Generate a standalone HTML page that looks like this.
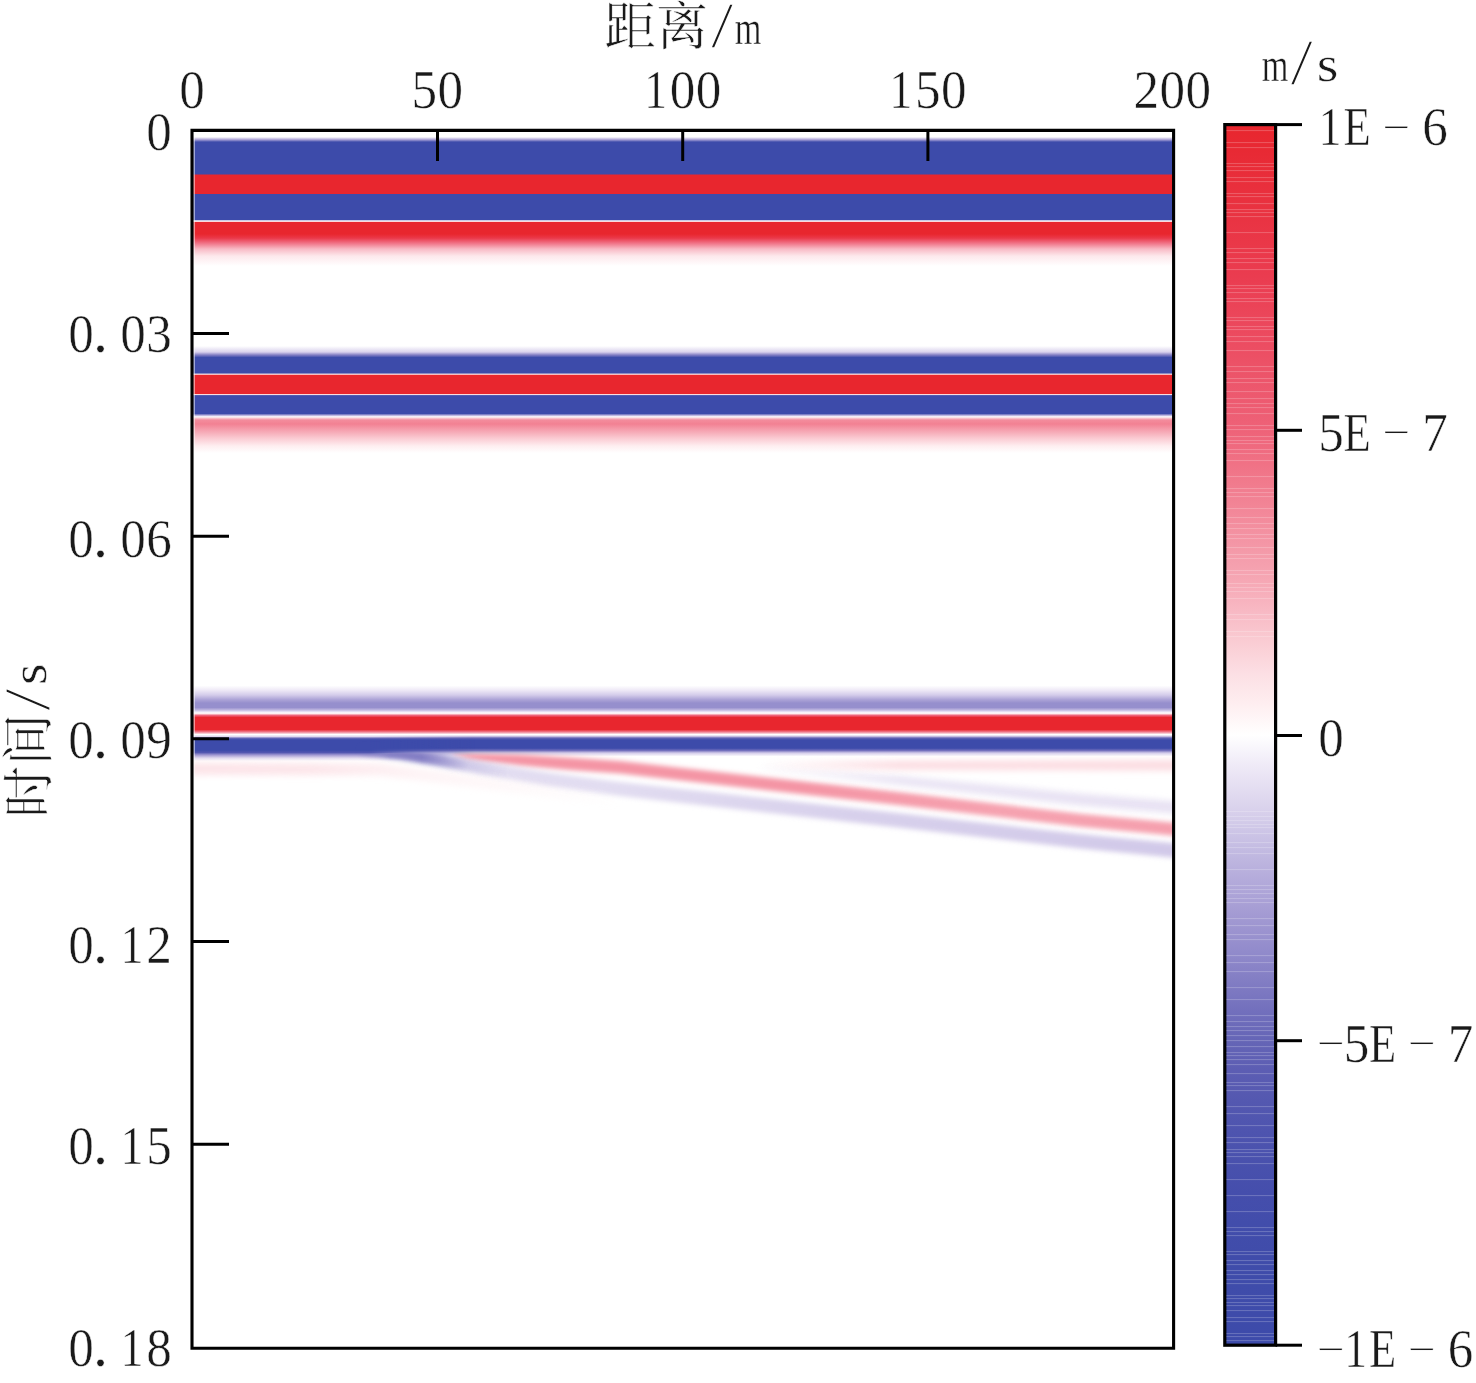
<!DOCTYPE html><html lang="zh"><head><meta charset="utf-8"><title>地震记录</title>
<style>html,body{margin:0;padding:0;background:#fff}svg{display:block}text{fill:#1a1a1a}</style></head><body>
<svg width="1476" height="1383" viewBox="0 0 1476 1383">
<defs>
<linearGradient id="gp" gradientUnits="userSpaceOnUse" x1="0" y1="130.4" x2="0" y2="1348.2"><stop offset="0.00049" stop-color="#ffffff"/><stop offset="0.00542" stop-color="#ffffff"/><stop offset="0.00747" stop-color="#b0a7d9"/><stop offset="0.00953" stop-color="#3d4baa"/><stop offset="0.03597" stop-color="#3d4baa"/><stop offset="0.03646" stop-color="#e8262e"/><stop offset="0.05198" stop-color="#e8262e"/><stop offset="0.05247" stop-color="#3d4baa"/><stop offset="0.07358" stop-color="#3d4baa"/><stop offset="0.07415" stop-color="#ffffff"/><stop offset="0.07472" stop-color="#ffffff"/><stop offset="0.07522" stop-color="#e8262e"/><stop offset="0.08507" stop-color="#e8262e"/><stop offset="0.08836" stop-color="#ea3849"/><stop offset="0.09246" stop-color="#f07084"/><stop offset="0.09739" stop-color="#f8bac5"/><stop offset="0.10314" stop-color="#fde8ec"/><stop offset="0.11135" stop-color="#ffffff"/><stop offset="0.17704" stop-color="#ffffff"/><stop offset="0.18197" stop-color="#dad2ed"/><stop offset="0.18443" stop-color="#837ec4"/><stop offset="0.18648" stop-color="#3d4baa"/><stop offset="0.19921" stop-color="#3d4baa"/><stop offset="0.20020" stop-color="#feeef0"/><stop offset="0.20118" stop-color="#e8262e"/><stop offset="0.21605" stop-color="#e8262e"/><stop offset="0.21695" stop-color="#feeef0"/><stop offset="0.21777" stop-color="#3d4baa"/><stop offset="0.23247" stop-color="#3d4baa"/><stop offset="0.23411" stop-color="#bfb7e0"/><stop offset="0.23518" stop-color="#ffffff"/><stop offset="0.23616" stop-color="#facdd4"/><stop offset="0.23781" stop-color="#f38c9d"/><stop offset="0.24109" stop-color="#f28193"/><stop offset="0.24602" stop-color="#f5a0ae"/><stop offset="0.25259" stop-color="#fac9d1"/><stop offset="0.25916" stop-color="#feeef0"/><stop offset="0.26490" stop-color="#ffffff"/><stop offset="0.45582" stop-color="#ffffff"/><stop offset="0.45952" stop-color="#efeaf7"/><stop offset="0.46362" stop-color="#d4ccea"/><stop offset="0.46732" stop-color="#ada4d7"/><stop offset="0.47019" stop-color="#968fcd"/><stop offset="0.47389" stop-color="#968fcd"/><stop offset="0.47594" stop-color="#bfb7e0"/><stop offset="0.47783" stop-color="#f6f3fa"/><stop offset="0.47881" stop-color="#feeef0"/><stop offset="0.48046" stop-color="#ee6278"/><stop offset="0.48210" stop-color="#e8262e"/><stop offset="0.49195" stop-color="#e8262e"/><stop offset="0.49401" stop-color="#f17e90"/><stop offset="0.49606" stop-color="#ffffff"/><stop offset="0.49729" stop-color="#e0d9ef"/><stop offset="0.49893" stop-color="#6565b6"/><stop offset="0.50057" stop-color="#3d4baa"/><stop offset="0.50731" stop-color="#3d4baa"/><stop offset="0.50920" stop-color="#7370bd"/><stop offset="0.51125" stop-color="#d4ccea"/><stop offset="0.51412" stop-color="#ffffff"/><stop offset="0.99984" stop-color="#ffffff"/></linearGradient>
<linearGradient id="gc" x1="0" y1="0" x2="0" y2="1"><stop offset="0.0000" stop-color="#e8262e"/><stop offset="0.0250" stop-color="#e82a35"/><stop offset="0.0500" stop-color="#e92f3c"/><stop offset="0.0750" stop-color="#e93342"/><stop offset="0.1000" stop-color="#ea3849"/><stop offset="0.1250" stop-color="#ea3c50"/><stop offset="0.1500" stop-color="#eb4458"/><stop offset="0.1750" stop-color="#ec4b60"/><stop offset="0.2000" stop-color="#ec5368"/><stop offset="0.2250" stop-color="#ed5a70"/><stop offset="0.2500" stop-color="#ee6278"/><stop offset="0.2750" stop-color="#f07084"/><stop offset="0.3000" stop-color="#f17e90"/><stop offset="0.3250" stop-color="#f38c9d"/><stop offset="0.3500" stop-color="#f49aa9"/><stop offset="0.3750" stop-color="#f6a8b5"/><stop offset="0.4000" stop-color="#f8bac5"/><stop offset="0.4250" stop-color="#facdd4"/><stop offset="0.4500" stop-color="#fcdfe4"/><stop offset="0.4750" stop-color="#feeef0"/><stop offset="0.5000" stop-color="#ffffff"/><stop offset="0.5250" stop-color="#efeaf7"/><stop offset="0.5500" stop-color="#e0d9ef"/><stop offset="0.5750" stop-color="#d0c8e8"/><stop offset="0.6000" stop-color="#bfb7e0"/><stop offset="0.6250" stop-color="#b0a7d9"/><stop offset="0.6500" stop-color="#a299d2"/><stop offset="0.6750" stop-color="#938ccc"/><stop offset="0.7000" stop-color="#837ec4"/><stop offset="0.7250" stop-color="#7370bd"/><stop offset="0.7500" stop-color="#6565b6"/><stop offset="0.7750" stop-color="#5c5db3"/><stop offset="0.8000" stop-color="#5458b0"/><stop offset="0.8250" stop-color="#4e54af"/><stop offset="0.8500" stop-color="#4951ad"/><stop offset="0.8750" stop-color="#454eac"/><stop offset="0.9000" stop-color="#424dab"/><stop offset="0.9250" stop-color="#404caa"/><stop offset="0.9500" stop-color="#3f4caa"/><stop offset="0.9750" stop-color="#3e4baa"/><stop offset="1.0000" stop-color="#3d4baa"/></linearGradient>
<filter id="b5" filterUnits="userSpaceOnUse" x="100" y="650" width="1200" height="300"><feGaussianBlur stdDeviation="3.2"/></filter>
<filter id="b3" filterUnits="userSpaceOnUse" x="100" y="650" width="1200" height="300"><feGaussianBlur stdDeviation="2.6"/></filter>
<clipPath id="cp"><rect x="192" y="130.4" width="981.6" height="1217.8"/></clipPath>
<linearGradient id="gl" gradientUnits="userSpaceOnUse" x1="0" y1="734.5" x2="0" y2="761"><stop offset="0.0000" stop-color="#ffffff"/><stop offset="0.0755" stop-color="#e0d9ef"/><stop offset="0.1434" stop-color="#6565b6"/><stop offset="0.2000" stop-color="#3d4baa"/><stop offset="0.5962" stop-color="#3d4baa"/><stop offset="0.6792" stop-color="#5256b0"/><stop offset="0.7736" stop-color="#a299d2"/><stop offset="0.8868" stop-color="#e0d9ef"/><stop offset="1.0000" stop-color="#ffffff"/></linearGradient><linearGradient id="glm" gradientUnits="userSpaceOnUse" x1="370" y1="0" x2="475" y2="0"><stop offset="0" stop-color="#fff"/><stop offset="1" stop-color="#000"/></linearGradient><mask id="ml" maskUnits="userSpaceOnUse" x="150" y="700" width="400" height="100"><rect x="150" y="700" width="400" height="100" fill="url(#glm)"/></mask><linearGradient id="gm0" gradientUnits="userSpaceOnUse" x1="440" y1="0" x2="1215" y2="0"><stop offset="0.0000" stop-color="#cccccc"/><stop offset="0.0516" stop-color="#ffffff"/><stop offset="0.4645" stop-color="#ffffff"/><stop offset="0.7226" stop-color="#e0e0e0"/><stop offset="1.0000" stop-color="#e6e6e6"/></linearGradient><mask id="m0" maskUnits="userSpaceOnUse" x="100" y="650" width="1200" height="300"><rect x="100" y="650" width="1200" height="300" fill="url(#gm0)"/></mask>
<linearGradient id="gm1" gradientUnits="userSpaceOnUse" x1="360" y1="0" x2="1215" y2="0"><stop offset="0.0000" stop-color="#000000"/><stop offset="0.0702" stop-color="#ffffff"/><stop offset="0.1287" stop-color="#9e9e9e"/><stop offset="0.2807" stop-color="#9e9e9e"/><stop offset="0.5731" stop-color="#d9d9d9"/><stop offset="1.0000" stop-color="#ffffff"/></linearGradient><mask id="m1" maskUnits="userSpaceOnUse" x="100" y="650" width="1200" height="300"><rect x="100" y="650" width="1200" height="300" fill="url(#gm1)"/></mask>
<linearGradient id="gm2" gradientUnits="userSpaceOnUse" x1="350" y1="0" x2="510" y2="0"><stop offset="0.0000" stop-color="#000000"/><stop offset="0.2500" stop-color="#ffffff"/><stop offset="0.4500" stop-color="#ffffff"/><stop offset="0.7375" stop-color="#333333"/><stop offset="1.0000" stop-color="#000000"/></linearGradient><mask id="m2" maskUnits="userSpaceOnUse" x="100" y="650" width="1200" height="300"><rect x="100" y="650" width="1200" height="300" fill="url(#gm2)"/></mask>
<linearGradient id="gm3" gradientUnits="userSpaceOnUse" x1="740" y1="0" x2="1215" y2="0"><stop offset="0.0000" stop-color="#000000"/><stop offset="0.3368" stop-color="#e6e6e6"/><stop offset="1.0000" stop-color="#ffffff"/></linearGradient><mask id="m3" maskUnits="userSpaceOnUse" x="100" y="650" width="1200" height="300"><rect x="100" y="650" width="1200" height="300" fill="url(#gm3)"/></mask>
<linearGradient id="gm4" gradientUnits="userSpaceOnUse" x1="760" y1="0" x2="1215" y2="0"><stop offset="0.0000" stop-color="#000000"/><stop offset="0.3077" stop-color="#ffffff"/><stop offset="1.0000" stop-color="#ffffff"/></linearGradient><mask id="m4" maskUnits="userSpaceOnUse" x="100" y="650" width="1200" height="300"><rect x="100" y="650" width="1200" height="300" fill="url(#gm4)"/></mask>
<linearGradient id="gm5" gradientUnits="userSpaceOnUse" x1="150" y1="0" x2="620" y2="0"><stop offset="0.0000" stop-color="#e6e6e6"/><stop offset="0.3404" stop-color="#cccccc"/><stop offset="0.5745" stop-color="#595959"/><stop offset="1.0000" stop-color="#000000"/></linearGradient><mask id="m5" maskUnits="userSpaceOnUse" x="100" y="650" width="1200" height="300"><rect x="100" y="650" width="1200" height="300" fill="url(#gm5)"/></mask>
</defs>
<rect width="1476" height="1383" fill="#fff"/>
<rect x="192" y="130.4" width="981.6" height="1217.8" fill="url(#gp)"/>
<rect x="192" y="734.5" width="288" height="26.5" fill="url(#gl)" mask="url(#ml)"/>
<g clip-path="url(#cp)" style="mix-blend-mode:darken">
<g mask="url(#m0)"><polygon points="452.0,754.0 468.0,753.3 520.0,754.5 570.0,757.4 620.0,761.0 900.0,792.3 1080.0,813.8 1172.0,822.5 1215.0,826.6 1215.0,839.6 1172.0,835.5 1080.0,826.8 900.0,805.3 620.0,773.5 570.0,769.9 520.0,765.5 468.0,759.3 452.0,755.0" fill="#f494a4" filter="url(#b3)"/></g>
<g mask="url(#m1)"><polygon points="380.0,746.0 411.0,748.5 445.0,755.0 482.0,761.7 550.0,772.8 620.0,782.0 900.0,813.2 1080.0,834.0 1172.0,843.0 1215.0,847.1 1215.0,861.6 1172.0,857.5 1080.0,848.5 900.0,827.8 620.0,796.0 550.0,786.2 482.0,774.7 445.0,766.0 411.0,757.5 380.0,752.0" fill="#d0c8e8" filter="url(#b3)"/></g>
<g mask="url(#m2)"><polygon points="360.0,747.0 400.0,748.5 430.0,752.5 460.0,758.3 510.0,767.5 510.0,779.5 460.0,770.3 430.0,764.5 400.0,759.5 360.0,755.0" fill="#837ec4" filter="url(#b3)"/></g>
<g mask="url(#m3)"><polygon points="760.0,766.0 900.0,776.0 1080.0,793.5 1172.0,801.3 1215.0,805.0 1215.0,817.0 1172.0,813.3 1080.0,805.5 900.0,785.0 760.0,770.0" fill="#e7e1f3" filter="url(#b5)"/></g>
<g mask="url(#m4)"><polygon points="760.0,761.0 1215.0,760.0 1215.0,771.0 760.0,769.0" fill="#fcdde2" filter="url(#b5)"/></g>
<g mask="url(#m5)"><polygon points="150.0,762.5 380.0,763.5 470.0,775.0 620.0,795.0 760.0,813.0 760.0,823.0 620.0,807.0 470.0,787.0 380.0,775.5 150.0,774.5" fill="#fce0e5" filter="url(#b5)"/></g>
</g>
<rect x="193.4" y="130.4" width="1.2" height="1217.8" fill="#fff" opacity="0.85"/>
<g stroke="#000" stroke-width="3.1" fill="none" stroke-linecap="butt">
<path d="M192 130.4 H1173.6 V1348.2 H192 Z"/>
</g>
<g stroke="#000" stroke-width="3" fill="none">
<path d="M192 333.5 H229"/>
<path d="M192 536.17 H229"/>
<path d="M192 738.84 H229"/>
<path d="M192 941.51 H229"/>
<path d="M192 1144.18 H229"/>
<path d="M437.5 130.4 V161"/>
<path d="M682.7 130.4 V161"/>
<path d="M927.9 130.4 V161"/>
</g>
<rect x="1224.8" y="124.6" width="50.8" height="1220.6" fill="url(#gc)" stroke="#000" stroke-width="3.2"/>
<g stroke="#fff" stroke-opacity="0.26" stroke-width="0.9"><path d="M1226.4 130.6H1274"/><path d="M1226.4 142.6H1274"/><path d="M1226.4 147.6H1274"/><path d="M1226.4 163.6H1274"/><path d="M1226.4 166.6H1274"/><path d="M1226.4 170.6H1274"/><path d="M1226.4 177.6H1274"/><path d="M1226.4 181.6H1274"/><path d="M1226.4 193.6H1274"/><path d="M1226.4 196.6H1274"/><path d="M1226.4 203.6H1274"/><path d="M1226.4 209.6H1274"/><path d="M1226.4 212.6H1274"/><path d="M1226.4 216.6H1274"/><path d="M1226.4 232.6H1274"/><path d="M1226.4 248.6H1274"/><path d="M1226.4 252.6H1274"/><path d="M1226.4 258.6H1274"/><path d="M1226.4 262.6H1274"/><path d="M1226.4 269.6H1274"/><path d="M1226.4 285.6H1274"/><path d="M1226.4 288.6H1274"/><path d="M1226.4 292.6H1274"/><path d="M1226.4 298.6H1274"/><path d="M1226.4 301.6H1274"/><path d="M1226.4 317.6H1274"/><path d="M1226.4 320.6H1274"/><path d="M1226.4 326.6H1274"/><path d="M1226.4 329.6H1274"/><path d="M1226.4 336.6H1274"/><path d="M1226.4 341.6H1274"/><path d="M1226.4 350.6H1274"/><path d="M1226.4 366.6H1274"/><path d="M1226.4 371.6H1274"/><path d="M1226.4 378.6H1274"/><path d="M1226.4 382.6H1274"/><path d="M1226.4 391.6H1274"/><path d="M1226.4 398.6H1274"/><path d="M1226.4 403.6H1274"/><path d="M1226.4 407.6H1274"/><path d="M1226.4 413.6H1274"/><path d="M1226.4 425.6H1274"/><path d="M1226.4 429.6H1274"/><path d="M1226.4 436.6H1274"/><path d="M1226.4 440.6H1274"/><path d="M1226.4 443.6H1274"/><path d="M1226.4 449.6H1274"/><path d="M1226.4 453.6H1274"/><path d="M1226.4 460.6H1274"/><path d="M1226.4 476.6H1274"/><path d="M1226.4 488.6H1274"/><path d="M1226.4 492.6H1274"/><path d="M1226.4 496.6H1274"/><path d="M1226.4 508.6H1274"/><path d="M1226.4 517.6H1274"/><path d="M1226.4 523.6H1274"/><path d="M1226.4 528.6H1274"/><path d="M1226.4 534.6H1274"/><path d="M1226.4 538.6H1274"/><path d="M1226.4 547.6H1274"/><path d="M1226.4 554.6H1274"/><path d="M1226.4 558.6H1274"/><path d="M1226.4 570.6H1274"/><path d="M1226.4 574.6H1274"/><path d="M1226.4 583.6H1274"/><path d="M1226.4 587.6H1274"/><path d="M1226.4 591.6H1274"/><path d="M1226.4 598.6H1274"/><path d="M1226.4 614.6H1274"/><path d="M1226.4 619.6H1274"/><path d="M1226.4 631.6H1274"/><path d="M1226.4 636.6H1274"/><path d="M1226.4 811.6H1274"/><path d="M1226.4 816.6H1274"/><path d="M1226.4 820.6H1274"/><path d="M1226.4 824.6H1274"/><path d="M1226.4 827.6H1274"/><path d="M1226.4 833.6H1274"/><path d="M1226.4 842.6H1274"/><path d="M1226.4 847.6H1274"/><path d="M1226.4 853.6H1274"/><path d="M1226.4 869.6H1274"/><path d="M1226.4 885.6H1274"/><path d="M1226.4 889.6H1274"/><path d="M1226.4 893.6H1274"/><path d="M1226.4 898.6H1274"/><path d="M1226.4 902.6H1274"/><path d="M1226.4 918.6H1274"/><path d="M1226.4 925.6H1274"/><path d="M1226.4 934.6H1274"/><path d="M1226.4 939.6H1274"/><path d="M1226.4 955.6H1274"/><path d="M1226.4 962.6H1274"/><path d="M1226.4 971.6H1274"/><path d="M1226.4 987.6H1274"/><path d="M1226.4 999.6H1274"/><path d="M1226.4 1015.6H1274"/><path d="M1226.4 1021.6H1274"/><path d="M1226.4 1026.6H1274"/><path d="M1226.4 1030.6H1274"/><path d="M1226.4 1035.6H1274"/><path d="M1226.4 1040.6H1274"/><path d="M1226.4 1046.6H1274"/><path d="M1226.4 1052.6H1274"/><path d="M1226.4 1055.6H1274"/><path d="M1226.4 1059.6H1274"/><path d="M1226.4 1064.6H1274"/><path d="M1226.4 1073.6H1274"/><path d="M1226.4 1082.6H1274"/><path d="M1226.4 1085.6H1274"/><path d="M1226.4 1090.6H1274"/><path d="M1226.4 1106.6H1274"/><path d="M1226.4 1113.6H1274"/><path d="M1226.4 1125.6H1274"/><path d="M1226.4 1137.6H1274"/><path d="M1226.4 1142.6H1274"/><path d="M1226.4 1149.6H1274"/><path d="M1226.4 1152.6H1274"/><path d="M1226.4 1156.6H1274"/><path d="M1226.4 1163.6H1274"/><path d="M1226.4 1179.6H1274"/><path d="M1226.4 1195.6H1274"/><path d="M1226.4 1211.6H1274"/><path d="M1226.4 1227.6H1274"/><path d="M1226.4 1231.6H1274"/><path d="M1226.4 1235.6H1274"/><path d="M1226.4 1251.6H1274"/><path d="M1226.4 1254.6H1274"/><path d="M1226.4 1260.6H1274"/><path d="M1226.4 1264.6H1274"/><path d="M1226.4 1270.6H1274"/><path d="M1226.4 1274.6H1274"/><path d="M1226.4 1279.6H1274"/><path d="M1226.4 1283.6H1274"/><path d="M1226.4 1295.6H1274"/><path d="M1226.4 1298.6H1274"/><path d="M1226.4 1302.6H1274"/><path d="M1226.4 1305.6H1274"/><path d="M1226.4 1310.6H1274"/><path d="M1226.4 1317.6H1274"/><path d="M1226.4 1321.6H1274"/><path d="M1226.4 1333.6H1274"/><path d="M1226.4 1336.6H1274"/><path d="M1226.4 1340.6H1274"/></g>
<g stroke="#000" stroke-width="3">
<path d="M1275.6 124.6 H1302"/>
<path d="M1275.6 430.3 H1302"/>
<path d="M1275.6 735.5 H1302"/>
<path d="M1275.6 1040.7 H1302"/>
<path d="M1275.6 1345.2 H1302"/>
</g>
<g font-family="'Liberation Serif', 'Noto Serif CJK SC', serif">
<g><text transform="translate(192,107.9) scale(0.947,1)" font-size="54" text-anchor="middle" stroke="#fff" stroke-width="0.5" stroke-linejoin="round">0</text></g>
<g><text transform="translate(424.3,107.9) scale(0.947,1)" font-size="54" text-anchor="middle" stroke="#fff" stroke-width="0.5" stroke-linejoin="round">5</text><text transform="translate(450.3,107.9) scale(0.947,1)" font-size="54" text-anchor="middle" stroke="#fff" stroke-width="0.5" stroke-linejoin="round">0</text></g>
<g><text transform="translate(655.6,107.9) scale(0.84,1)" font-size="54" text-anchor="middle" stroke="#fff" stroke-width="0.5" stroke-linejoin="round">1</text><text transform="translate(682.6,107.9) scale(0.947,1)" font-size="54" text-anchor="middle" stroke="#fff" stroke-width="0.5" stroke-linejoin="round">0</text><text transform="translate(708.6,107.9) scale(0.947,1)" font-size="54" text-anchor="middle" stroke="#fff" stroke-width="0.5" stroke-linejoin="round">0</text></g>
<g><text transform="translate(900.9,107.9) scale(0.84,1)" font-size="54" text-anchor="middle" stroke="#fff" stroke-width="0.5" stroke-linejoin="round">1</text><text transform="translate(927.9,107.9) scale(0.947,1)" font-size="54" text-anchor="middle" stroke="#fff" stroke-width="0.5" stroke-linejoin="round">5</text><text transform="translate(953.9,107.9) scale(0.947,1)" font-size="54" text-anchor="middle" stroke="#fff" stroke-width="0.5" stroke-linejoin="round">0</text></g>
<g><text transform="translate(1146.2,107.9) scale(0.947,1)" font-size="54" text-anchor="middle" stroke="#fff" stroke-width="0.5" stroke-linejoin="round">2</text><text transform="translate(1172.2,107.9) scale(0.947,1)" font-size="54" text-anchor="middle" stroke="#fff" stroke-width="0.5" stroke-linejoin="round">0</text><text transform="translate(1198.2,107.9) scale(0.947,1)" font-size="54" text-anchor="middle" stroke="#fff" stroke-width="0.5" stroke-linejoin="round">0</text></g>
<g><text transform="translate(159,149.7) scale(0.947,1)" font-size="54" text-anchor="middle" stroke="#fff" stroke-width="0.5" stroke-linejoin="round">0</text></g>
<g><text transform="translate(81,352) scale(0.947,1)" font-size="54" text-anchor="middle" stroke="#fff" stroke-width="0.5" stroke-linejoin="round">0</text><text transform="translate(100.5,352) scale(1,1)" font-size="62" text-anchor="middle" stroke="#fff" stroke-width="0.5" stroke-linejoin="round">.</text><text transform="translate(133,352) scale(0.947,1)" font-size="54" text-anchor="middle" stroke="#fff" stroke-width="0.5" stroke-linejoin="round">0</text><text transform="translate(159,352) scale(0.947,1)" font-size="54" text-anchor="middle" stroke="#fff" stroke-width="0.5" stroke-linejoin="round">3</text></g>
<g><text transform="translate(81,557) scale(0.947,1)" font-size="54" text-anchor="middle" stroke="#fff" stroke-width="0.5" stroke-linejoin="round">0</text><text transform="translate(100.5,557) scale(1,1)" font-size="62" text-anchor="middle" stroke="#fff" stroke-width="0.5" stroke-linejoin="round">.</text><text transform="translate(133,557) scale(0.947,1)" font-size="54" text-anchor="middle" stroke="#fff" stroke-width="0.5" stroke-linejoin="round">0</text><text transform="translate(159,557) scale(0.947,1)" font-size="54" text-anchor="middle" stroke="#fff" stroke-width="0.5" stroke-linejoin="round">6</text></g>
<g><text transform="translate(81,758.1) scale(0.947,1)" font-size="54" text-anchor="middle" stroke="#fff" stroke-width="0.5" stroke-linejoin="round">0</text><text transform="translate(100.5,758.1) scale(1,1)" font-size="62" text-anchor="middle" stroke="#fff" stroke-width="0.5" stroke-linejoin="round">.</text><text transform="translate(133,758.1) scale(0.947,1)" font-size="54" text-anchor="middle" stroke="#fff" stroke-width="0.5" stroke-linejoin="round">0</text><text transform="translate(159,758.1) scale(0.947,1)" font-size="54" text-anchor="middle" stroke="#fff" stroke-width="0.5" stroke-linejoin="round">9</text></g>
<g><text transform="translate(81,963.1) scale(0.947,1)" font-size="54" text-anchor="middle" stroke="#fff" stroke-width="0.5" stroke-linejoin="round">0</text><text transform="translate(100.5,963.1) scale(1,1)" font-size="62" text-anchor="middle" stroke="#fff" stroke-width="0.5" stroke-linejoin="round">.</text><text transform="translate(132,963.1) scale(0.84,1)" font-size="54" text-anchor="middle" stroke="#fff" stroke-width="0.5" stroke-linejoin="round">1</text><text transform="translate(159,963.1) scale(0.947,1)" font-size="54" text-anchor="middle" stroke="#fff" stroke-width="0.5" stroke-linejoin="round">2</text></g>
<g><text transform="translate(81,1164.1) scale(0.947,1)" font-size="54" text-anchor="middle" stroke="#fff" stroke-width="0.5" stroke-linejoin="round">0</text><text transform="translate(100.5,1164.1) scale(1,1)" font-size="62" text-anchor="middle" stroke="#fff" stroke-width="0.5" stroke-linejoin="round">.</text><text transform="translate(132,1164.1) scale(0.84,1)" font-size="54" text-anchor="middle" stroke="#fff" stroke-width="0.5" stroke-linejoin="round">1</text><text transform="translate(159,1164.1) scale(0.947,1)" font-size="54" text-anchor="middle" stroke="#fff" stroke-width="0.5" stroke-linejoin="round">5</text></g>
<g><text transform="translate(81,1366) scale(0.947,1)" font-size="54" text-anchor="middle" stroke="#fff" stroke-width="0.5" stroke-linejoin="round">0</text><text transform="translate(100.5,1366) scale(1,1)" font-size="62" text-anchor="middle" stroke="#fff" stroke-width="0.5" stroke-linejoin="round">.</text><text transform="translate(132,1366) scale(0.84,1)" font-size="54" text-anchor="middle" stroke="#fff" stroke-width="0.5" stroke-linejoin="round">1</text><text transform="translate(159,1366) scale(0.947,1)" font-size="54" text-anchor="middle" stroke="#fff" stroke-width="0.5" stroke-linejoin="round">8</text></g>
<g><text transform="translate(1330,145.1) scale(0.84,1)" font-size="54" text-anchor="middle" stroke="#fff" stroke-width="0.5" stroke-linejoin="round">1</text><text transform="translate(1357,145.1) scale(0.825,1)" font-size="54" text-anchor="middle" stroke="#fff" stroke-width="0.5" stroke-linejoin="round">E</text><text transform="translate(1396,137.864) scale(0.9,0.6)" font-size="54" text-anchor="middle" stroke="#fff" stroke-width="0.5" stroke-linejoin="round"> − </text><text transform="translate(1435,145.1) scale(0.947,1)" font-size="54" text-anchor="middle" stroke="#fff" stroke-width="0.5" stroke-linejoin="round">6</text></g>
<g><text transform="translate(1331,450.6) scale(0.947,1)" font-size="54" text-anchor="middle" stroke="#fff" stroke-width="0.5" stroke-linejoin="round">5</text><text transform="translate(1357,450.6) scale(0.825,1)" font-size="54" text-anchor="middle" stroke="#fff" stroke-width="0.5" stroke-linejoin="round">E</text><text transform="translate(1396,443.364) scale(0.9,0.6)" font-size="54" text-anchor="middle" stroke="#fff" stroke-width="0.5" stroke-linejoin="round"> − </text><text transform="translate(1435,450.6) scale(0.947,1)" font-size="54" text-anchor="middle" stroke="#fff" stroke-width="0.5" stroke-linejoin="round">7</text></g>
<g><text transform="translate(1331,756) scale(0.947,1)" font-size="54" text-anchor="middle" stroke="#fff" stroke-width="0.5" stroke-linejoin="round">0</text></g>
<g><text transform="translate(1330.5,1054.26) scale(0.9,0.6)" font-size="54" text-anchor="middle" stroke="#fff" stroke-width="0.5" stroke-linejoin="round">−</text><text transform="translate(1356.5,1061.5) scale(0.947,1)" font-size="54" text-anchor="middle" stroke="#fff" stroke-width="0.5" stroke-linejoin="round">5</text><text transform="translate(1382.5,1061.5) scale(0.825,1)" font-size="54" text-anchor="middle" stroke="#fff" stroke-width="0.5" stroke-linejoin="round">E</text><text transform="translate(1421.5,1054.26) scale(0.9,0.6)" font-size="54" text-anchor="middle" stroke="#fff" stroke-width="0.5" stroke-linejoin="round"> − </text><text transform="translate(1460.5,1061.5) scale(0.947,1)" font-size="54" text-anchor="middle" stroke="#fff" stroke-width="0.5" stroke-linejoin="round">7</text></g>
<g><text transform="translate(1330.5,1359.76) scale(0.9,0.6)" font-size="54" text-anchor="middle" stroke="#fff" stroke-width="0.5" stroke-linejoin="round">−</text><text transform="translate(1355.5,1367) scale(0.84,1)" font-size="54" text-anchor="middle" stroke="#fff" stroke-width="0.5" stroke-linejoin="round">1</text><text transform="translate(1382.5,1367) scale(0.825,1)" font-size="54" text-anchor="middle" stroke="#fff" stroke-width="0.5" stroke-linejoin="round">E</text><text transform="translate(1421.5,1359.76) scale(0.9,0.6)" font-size="54" text-anchor="middle" stroke="#fff" stroke-width="0.5" stroke-linejoin="round"> − </text><text transform="translate(1460.5,1367) scale(0.947,1)" font-size="54" text-anchor="middle" stroke="#fff" stroke-width="0.5" stroke-linejoin="round">6</text></g>
<g><text x="604" y="44.5" font-size="52" textLength="104" lengthAdjust="spacing" stroke="#fff" stroke-width="0.5" stroke-linejoin="round">距离</text><text transform="translate(722.2,46.5) scale(1.25,1)" font-size="65.6" text-anchor="middle" stroke="#fff" stroke-width="1.25">/</text><text transform="translate(748.2,43.5) scale(0.66,0.93)" font-size="52" text-anchor="middle" stroke="#fff" stroke-width="0.5" stroke-linejoin="round">m</text></g>
<g transform="translate(46,817.7) rotate(-90)"><text x="0" y="1" font-size="52" textLength="104" lengthAdjust="spacing" stroke="#fff" stroke-width="0.5" stroke-linejoin="round">时间</text><text transform="translate(118.2,3) scale(1.25,1)" font-size="65.6" text-anchor="middle" stroke="#fff" stroke-width="1.25">/</text><text transform="translate(143.5,0) scale(1.07,0.98)" font-size="52" text-anchor="middle" stroke="#fff" stroke-width="0.5" stroke-linejoin="round">s</text></g>
<g><text transform="translate(1275,81) scale(0.66,0.93)" font-size="52" text-anchor="middle" stroke="#fff" stroke-width="0.5" stroke-linejoin="round">m</text><text transform="translate(1301.6,84.4) scale(1.25,1)" font-size="65.6" text-anchor="middle" stroke="#fff" stroke-width="1.25">/</text><text transform="translate(1327.5,81) scale(1.07,0.98)" font-size="52" text-anchor="middle" stroke="#fff" stroke-width="0.5" stroke-linejoin="round">s</text></g>
</g>
</svg></body></html>
